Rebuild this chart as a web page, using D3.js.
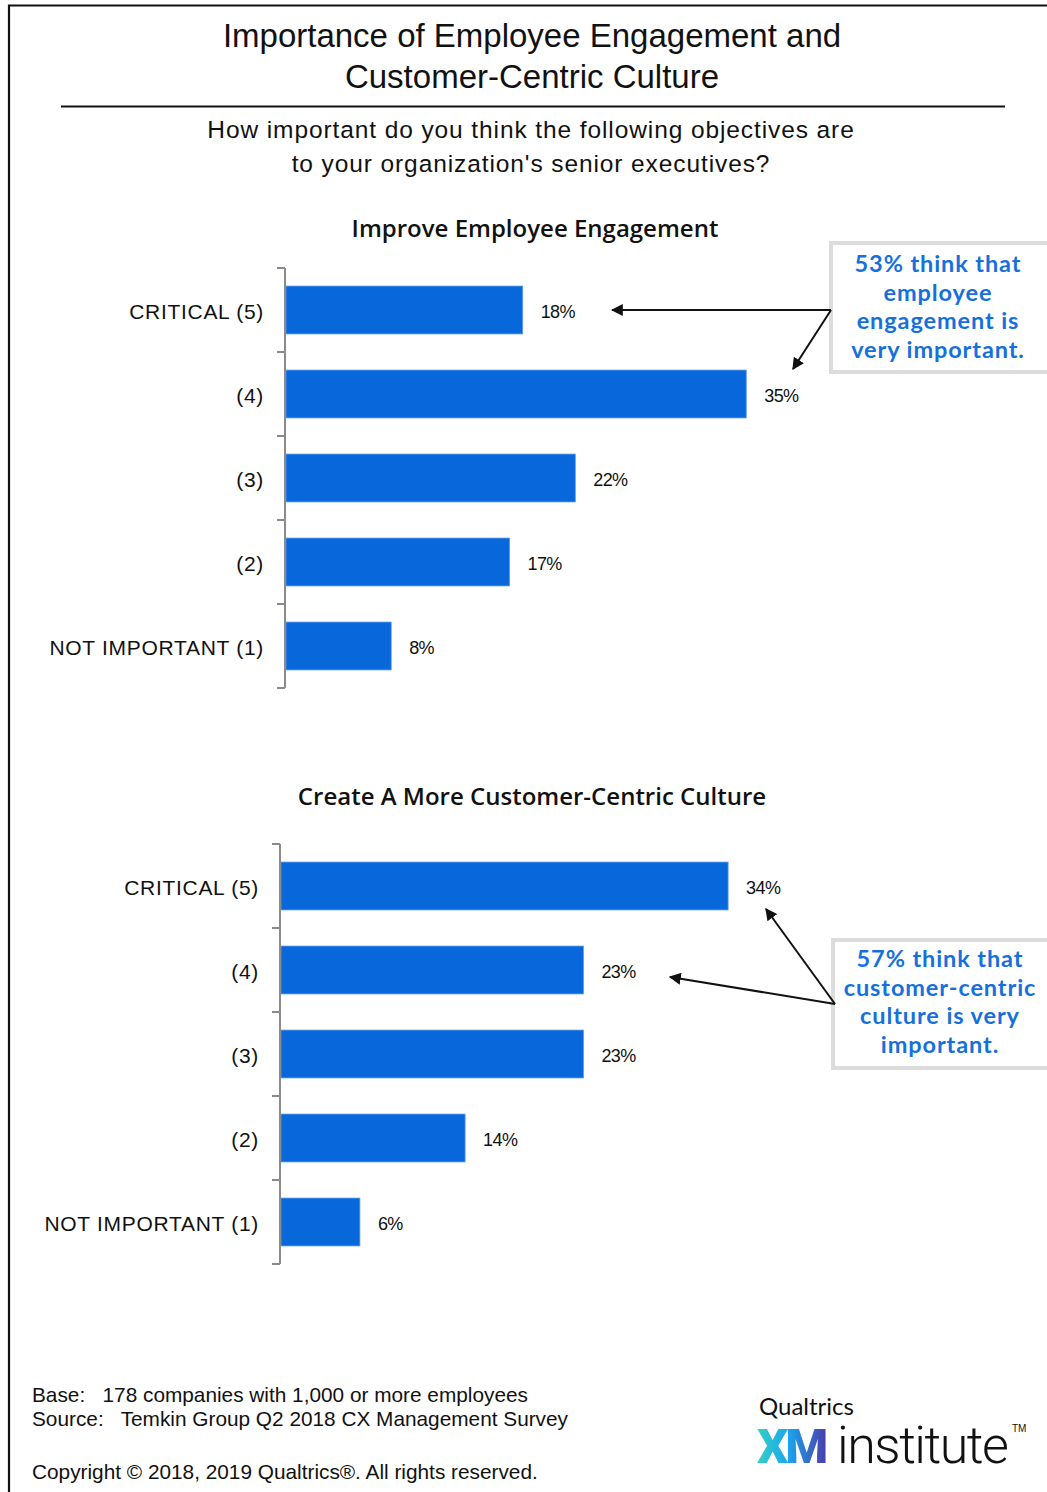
<!DOCTYPE html>
<html>
<head>
<meta charset="utf-8">
<script src="https://cdn.jsdelivr.net/npm/d3@7/dist/d3.min.js"></script>
<style>
  html, body { margin: 0; padding: 0; background: #fff; }
  svg { display: block; }
</style>
</head>
<body>
<svg id="chart" width="1047" height="1492"></svg>
<script>
// Survey answers (percent of respondents), top to bottom
const categories = ["CRITICAL (5)", "(4)", "(3)", "(2)", "NOT IMPORTANT (1)"];
const engagementValues = [18, 35, 22, 17, 8];
const cultureValues = [34, 23, 23, 14, 6];

const titleLines = ["Importance of Employee Engagement and", "Customer-Centric Culture"];
const questionLines = ["How important do you think the following objectives are", "to your organization's senior executives?"];
const panelTitles = ["Improve Employee Engagement", "Create A More Customer-Centric Culture"];
const calloutEngagement = ["53% think that", "employee", "engagement is", "very important."];
const calloutCulture = ["57% think that", "customer-centric", "culture is very", "important."];
const footLines = ["Base:   178 companies with 1,000 or more employees", "Source:   Temkin Group Q2 2018 CX Management Survey"];
const copyright = "Copyright \u00A9 2018, 2019 Qualtrics\u00AE. All rights reserved.";

const BAR = "#0967dc";
const BLUE_TEXT = "#1670dc";
const SANS = "'Liberation Sans', Arial, sans-serif";
const OPEN = "'Open Sans', 'Liberation Sans', sans-serif";
const LATO = "Lato, 'Open Sans', sans-serif";

const svg = d3.select("#chart");

// frame (left and top edges)
svg.append("path")
  .attr("d", "M9,1492 V5.5 H1047")
  .attr("fill", "none").attr("stroke", "#111").attr("stroke-width", 2.2);

// headline
svg.append("g").selectAll("text").data(titleLines).join("text")
  .attr("x", 532).attr("y", (d, i) => 47 + i * 41)
  .attr("text-anchor", "middle")
  .attr("font-family", SANS).attr("font-size", 33)
  .attr("fill", "#111")
  .text(d => d);

svg.append("line")
  .attr("x1", 61).attr("x2", 1005).attr("y1", 106.5).attr("y2", 106.5)
  .attr("stroke", "#111").attr("stroke-width", 2.2);

svg.append("g").selectAll("text").data(questionLines).join("text")
  .attr("x", 531).attr("y", (d, i) => 138 + i * 34)
  .attr("text-anchor", "middle")
  .attr("font-family", SANS).attr("font-size", 24.5)
  .attr("letter-spacing", 0.9)
  .attr("fill", "#111")
  .text(d => d);

// shared value scale so both panels are comparable
const x = d3.scaleLinear().domain([0, 100]).range([0, 1315]);

function panel(values, opts) {
  const g = svg.append("g");
  const y = d3.scaleBand().domain(categories)
    .range([opts.top, opts.top + 420])
    .paddingInner(0.43).paddingOuter(0.215);

  g.append("text")
    .attr("x", opts.titleX).attr("y", opts.titleY)
    .attr("text-anchor", "middle")
    .attr("font-family", OPEN).attr("font-weight", 600).attr("font-size", 24)
    .attr("fill", "#111")
    .text(opts.title);

  // bars
  g.selectAll("rect").data(values).join("rect")
    .attr("x", opts.axisX + 1)
    .attr("y", (d, i) => y(categories[i]))
    .attr("width", d => x(d))
    .attr("height", y.bandwidth())
    .attr("fill", BAR)
    .attr("stroke", "#5c9be6").attr("stroke-width", 0.8);

  // value labels
  g.selectAll("text.val").data(values).join("text")
    .attr("class", "val")
    .attr("x", d => opts.axisX + 1 + x(d) + 18)
    .attr("y", (d, i) => y(categories[i]) + y.bandwidth() / 2 + 8)
    .attr("font-family", SANS).attr("font-size", 18)
    .attr("letter-spacing", -0.6)
    .attr("fill", "#111")
    .text(d => d + "%");

  // category labels
  const axis = d3.axisLeft(y).tickSize(0).tickPadding(21);
  const ax = g.append("g").attr("transform", `translate(${opts.axisX},0)`).call(axis);
  ax.select(".domain").remove();
  ax.selectAll("text")
    .attr("dy", "0.42em")
    .attr("font-family", SANS).attr("font-size", 21)
    .attr("letter-spacing", 0.7)
    .attr("fill", "#111");

  // bracket-style axis with ticks between categories
  const bounds = d3.range(categories.length + 1).map(i => opts.top + i * y.step());
  g.append("line")
    .attr("x1", opts.axisX).attr("x2", opts.axisX)
    .attr("y1", opts.top).attr("y2", opts.top + 420)
    .attr("stroke", "#8a8a8a").attr("stroke-width", 2);
  g.selectAll("line.tick").data(bounds).join("line")
    .attr("class", "tick")
    .attr("x1", opts.axisX - 8).attr("x2", opts.axisX)
    .attr("y1", d => d).attr("y2", d => d)
    .attr("stroke", "#8a8a8a").attr("stroke-width", 2);

  return { y };
}

panel(engagementValues, { top: 268, axisX: 285, titleX: 535, titleY: 237, title: panelTitles[0] });
panel(cultureValues, { top: 844, axisX: 280, titleX: 532, titleY: 805, title: panelTitles[1] });

// callouts
const defs = svg.append("defs");
defs.append("marker")
  .attr("id", "arrow").attr("viewBox", "0 0 10 10")
  .attr("refX", 9).attr("refY", 5)
  .attr("markerWidth", 6).attr("markerHeight", 6)
  .attr("markerUnits", "strokeWidth")
  .attr("orient", "auto")
  .append("path").attr("d", "M0,0 L10,5 L0,10 z").attr("fill", "#111");

function callout(lines, box, textX, firstY, arrows) {
  const g = svg.append("g");
  g.append("rect")
    .attr("x", box[0]).attr("y", box[1]).attr("width", box[2]).attr("height", box[3])
    .attr("fill", "#fff").attr("stroke", "#dcdcdc").attr("stroke-width", 4);
  g.selectAll("text").data(lines).join("text")
    .attr("x", textX).attr("y", (d, i) => firstY + i * 28.7)
    .attr("text-anchor", "middle")
    .attr("font-family", LATO).attr("font-weight", 700).attr("font-size", 23.5)
    .attr("letter-spacing", 0.9)
    .attr("fill", BLUE_TEXT)
    .text(d => d);
  arrows.forEach(a => {
    g.append("line")
      .attr("x1", a[0]).attr("y1", a[1]).attr("x2", a[2]).attr("y2", a[3])
      .attr("stroke", "#111").attr("stroke-width", 2)
      .attr("marker-end", "url(#arrow)");
  });
}

callout(calloutEngagement, [831, 243, 218, 129], 938, 272,
  [[831, 310, 612, 310], [831, 310, 793, 369]]);
callout(calloutCulture, [833, 940, 216, 128], 940, 967,
  [[835, 1004, 766, 909], [835, 1004, 670, 977]]);

// footnotes
svg.append("g").selectAll("text").data(footLines).join("text")
  .attr("x", 32).attr("y", (d, i) => 1402 + i * 24)
  .attr("font-family", SANS).attr("font-size", 20.8)
  .attr("fill", "#111")
  .attr("xml:space", "preserve")
  .style("white-space", "pre")
  .text(d => d);
svg.append("text")
  .attr("x", 32).attr("y", 1479)
  .attr("font-family", SANS).attr("font-size", 20.8)
  .attr("fill", "#111")
  .text(copyright);

// brand mark
const grad = defs.append("linearGradient").attr("id", "xmGrad")
  .attr("x1", "0%").attr("x2", "100%").attr("y1", "0%").attr("y2", "0%");
grad.append("stop").attr("offset", "0%").attr("stop-color", "#35d0c6");
grad.append("stop").attr("offset", "45%").attr("stop-color", "#1aa6ef");
grad.append("stop").attr("offset", "100%").attr("stop-color", "#4b3cab");

svg.append("text")
  .attr("x", 759).attr("y", 1415)
  .attr("font-family", LATO).attr("font-size", 24)
  .attr("fill", "#111").text("Qualtrics");
svg.append("text")
  .attr("x", 757).attr("y", 1463)
  .attr("font-family", "Roboto, sans-serif").attr("font-weight", 900).attr("font-size", 49)
  .attr("letter-spacing", -3)
  .attr("fill", "url(#xmGrad)").text("XM");
svg.append("text")
  .attr("x", 837).attr("y", 1463)
  .attr("font-family", "Roboto, sans-serif").attr("font-weight", 300).attr("font-size", 52)
  .attr("letter-spacing", -1.5)
  .attr("fill", "#111").text("institute");
svg.append("text")
  .attr("x", 1012).attr("y", 1432)
  .attr("font-family", SANS).attr("font-size", 10)
  .attr("fill", "#111").text("TM");
</script>
</body>
</html>
